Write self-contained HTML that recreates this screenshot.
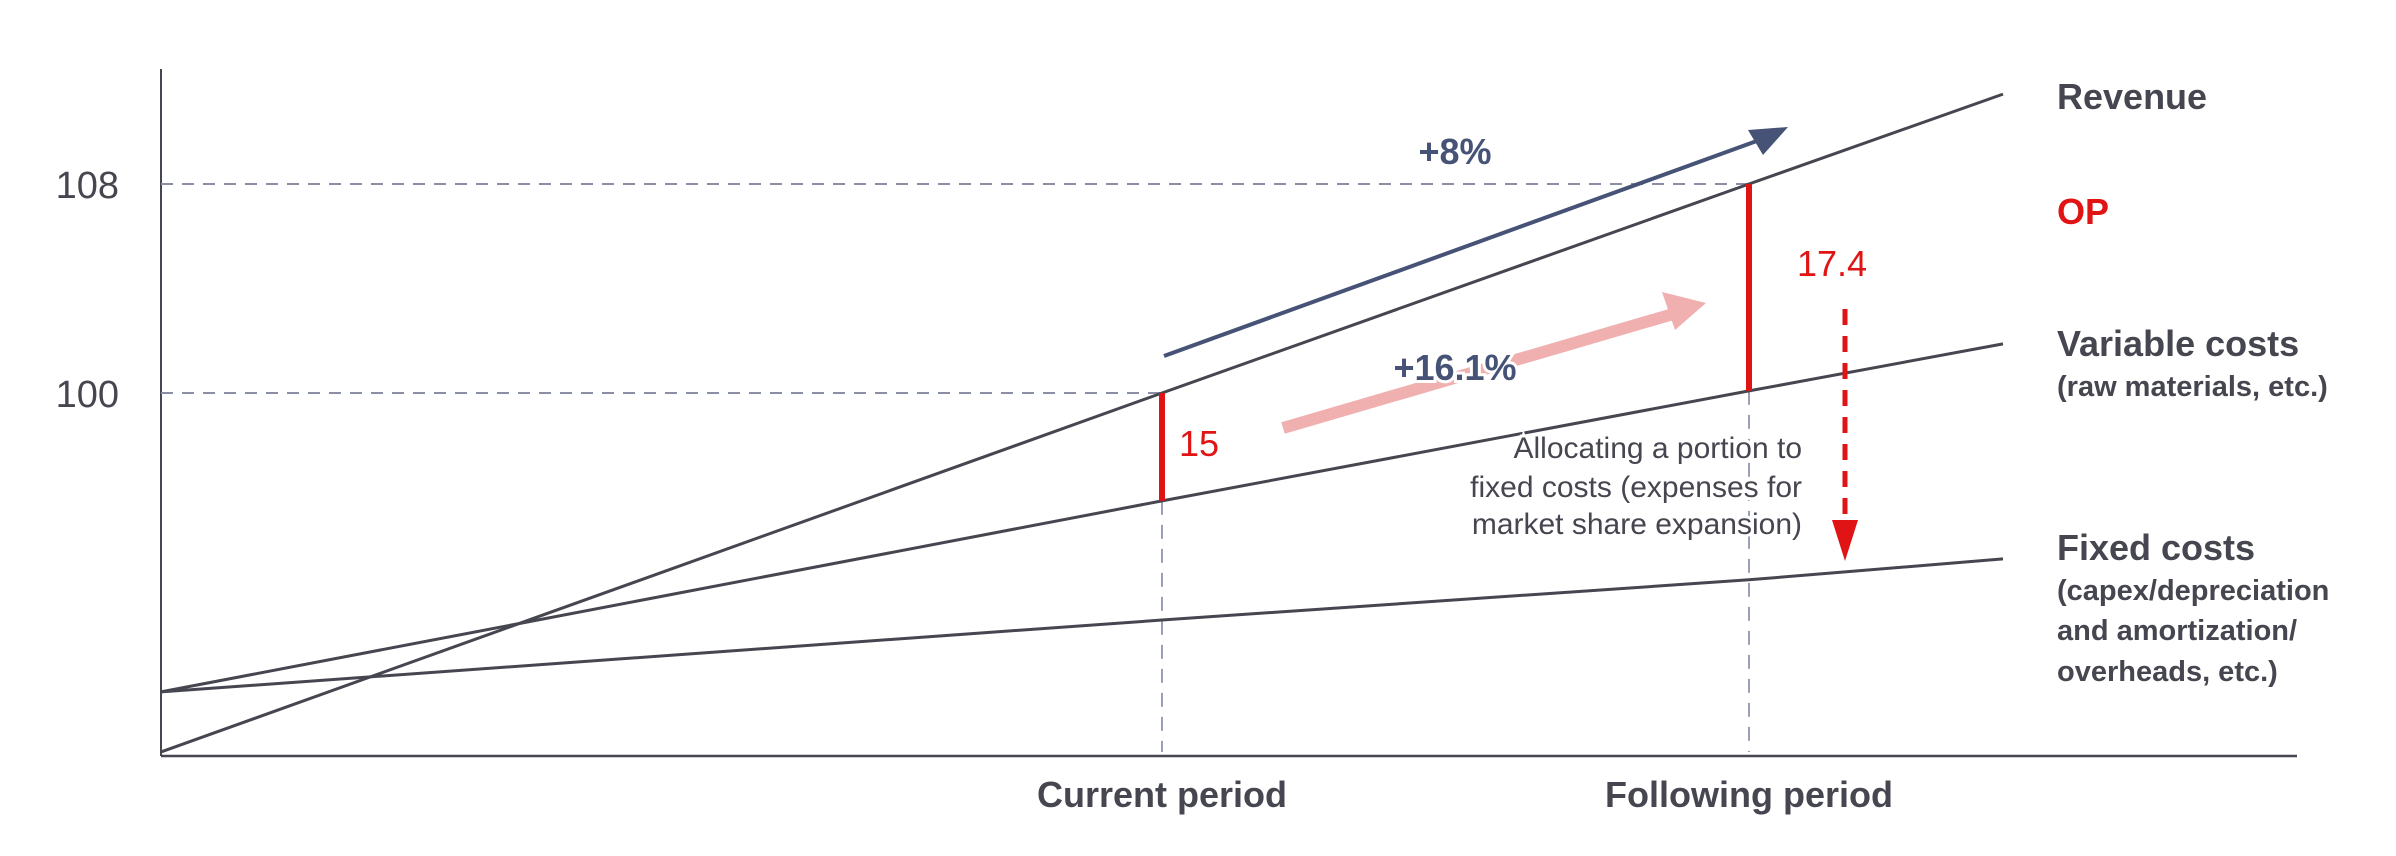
<!DOCTYPE html>
<html><head><meta charset="utf-8">
<style>
html,body{margin:0;padding:0;background:#fff;}
svg{display:block;}
text{font-family:"Liberation Sans Narrow","Liberation Sans",sans-serif;font-stretch:condensed;}
</style></head>
<body>
<svg id="chart" width="2396" height="856" viewBox="0 0 2396 856" xmlns="http://www.w3.org/2000/svg">
  <g id="grid"></g>
  <g id="lines"></g>
  <g id="marks"></g>
  <g id="labels"></g>
</svg>
<script>
// time positions: start, current period, following period, line end
const timePoints = [0, 100.1, 158.8, 184.2];
const periodLabels = ["Current period", "Following period"];
const periodIdx = [1, 2];
const revenue = [86.26, 100, 108, 111.44];
const variableCosts = [88.56, 95.87, 100.08, 101.88];
const fixedCosts = [88.56, 91.31, 92.85, 93.65];
const yTicks = [100, 108];
const opValues = ["15", "17.4"];
const growthLabels = ["+8%", "+16.1%"];

const X0 = 161, XK = 10, Y100 = 393, YK = 26.125;
function xs(t){ return X0 + t*XK; }
function ys(v){ return Y100 - (v-100)*YK; }
const AXIS_Y = 756, AXIS_TOP = 69, AXIS_RIGHT = 2297;
const NS = "http://www.w3.org/2000/svg";
function mk(parent, tag, attrs){
  const el = document.createElementNS(NS, tag);
  for (const k in attrs) el.setAttribute(k, attrs[k]);
  document.getElementById(parent).appendChild(el);
  return el;
}
const INK = "#45464f", NAVY = "#465377", RED = "#e01414";

// axes
let el = mk("grid","line",{x1:X0,y1:AXIS_TOP,x2:X0,y2:AXIS_Y,stroke:INK,"stroke-width":2});


el = mk("grid","line",{x1:X0,y1:AXIS_Y,x2:AXIS_RIGHT,y2:AXIS_Y,stroke:INK,"stroke-width":2.5});



// y tick gridlines + labels
yTicks.forEach((v,i)=>{
  const xe = xs(timePoints[periodIdx[i]]);
  let g = mk("grid","line",{x1:X0,y1:ys(v),x2:xe,y2:ys(v),stroke:"#8a8fa5","stroke-width":2,"stroke-dasharray":"12 9"});
  
  
  let t = mk("labels","text",{x:119,y:ys(v)+14,"text-anchor":"end","font-size":38,fill:INK});
  t.textContent = v;
  
  
});

// period vertical dashed + labels
periodIdx.forEach((pi,i)=>{
  const x = xs(timePoints[pi]);
  let g = mk("grid","line",{x1:x,y1:ys(variableCosts[pi]),x2:x,y2:AXIS_Y-4,stroke:"#9aa0b5","stroke-width":2,"stroke-dasharray":"14 10"});
  
  
  let t = mk("labels","text",{x:x,y:807,"text-anchor":"middle","font-size":36,fill:INK,"font-weight":"bold"});
  t.textContent = periodLabels[i];
  
  
});

// series lines
function series(arr, name){
  const pts = arr.map((v,i)=>xs(timePoints[i])+","+ys(v)).join(" ");
  let p = mk("lines","polyline",{points:pts,fill:"none",stroke:INK,"stroke-width":3});
  
  
}
series(revenue,"revenue-line");
series(variableCosts,"variable-costs-line");
series(fixedCosts,"fixed-costs-line");

// OP bars
periodIdx.forEach((pi,i)=>{
  const x = xs(timePoints[pi]);
  let b = mk("marks","line",{x1:x,y1:ys(revenue[pi]),x2:x,y2:ys(variableCosts[pi]),stroke:RED,"stroke-width":6});
  
  
});

// defs for arrowheads
const defs = mk("marks","defs",{});
// blue arrow
el = mk("marks","line",{x1:1164,y1:356,x2:1765,y2:138,stroke:NAVY,"stroke-width":4});


el = mk("marks","polygon",{points:"1788,127 1748,130 1763,155",fill:NAVY});


// pink arrow
el = mk("marks","line",{x1:1283,y1:428,x2:1680,y2:312,stroke:"#f0b0b0","stroke-width":12});


el = mk("marks","polygon",{points:"1706,303 1662,292 1675,330",fill:"#f0b0b0"});


// red dashed arrow
el = mk("marks","line",{x1:1845,y1:309,x2:1845,y2:525,stroke:RED,"stroke-width":5,"stroke-dasharray":"16 11"});


el = mk("marks","polygon",{points:"1832,520 1858,520 1845,561",fill:RED});



function txt(x,y,s,size,fill,anchor,name,weight,halo){
  let t = mk("labels","text",{x:x,y:y,"font-size":size,fill:fill,"text-anchor":anchor||"start","font-weight":weight||"normal"});
  if(halo){t.setAttribute("stroke","#fff");t.setAttribute("stroke-width","6");t.setAttribute("paint-order","stroke");}
  t.textContent = s;
  
  
  return t;
}
txt(1455,164,growthLabels[0],36,NAVY,"middle","revenue-growth-label","bold");
txt(1455,380,growthLabels[1],36,NAVY,"middle","op-growth-label","bold",true);
txt(1179,456,opValues[0],36,RED,"start","op-value-current");
txt(1797,276,opValues[1],36,RED,"start","op-value-following");
txt(1802,458,"Allocating a portion to",30,INK,"end","allocation-note-1",null,true);
txt(1802,497,"fixed costs (expenses for",30,INK,"end","allocation-note-2",null,true);
txt(1802,534,"market share expansion)",30,INK,"end","allocation-note-3",null,true);

txt(2057,109,"Revenue",36,INK,"start","revenue-label","bold");
txt(2057,224,"OP",36,RED,"start","op-label","bold");
txt(2057,356,"Variable costs",36,INK,"start","variable-costs-label","bold");
txt(2057,396,"(raw materials, etc.)",29,INK,"start","variable-costs-sublabel","bold");
txt(2057,560,"Fixed costs",36,INK,"start","fixed-costs-label","bold");
txt(2057,600,"(capex/depreciation",29,INK,"start","fixed-costs-sublabel-1","bold");
txt(2057,640,"and amortization/",29,INK,"start","fixed-costs-sublabel-2","bold");
txt(2057,681,"overheads, etc.)",29,INK,"start","fixed-costs-sublabel-3","bold");
</script>
</body></html>
